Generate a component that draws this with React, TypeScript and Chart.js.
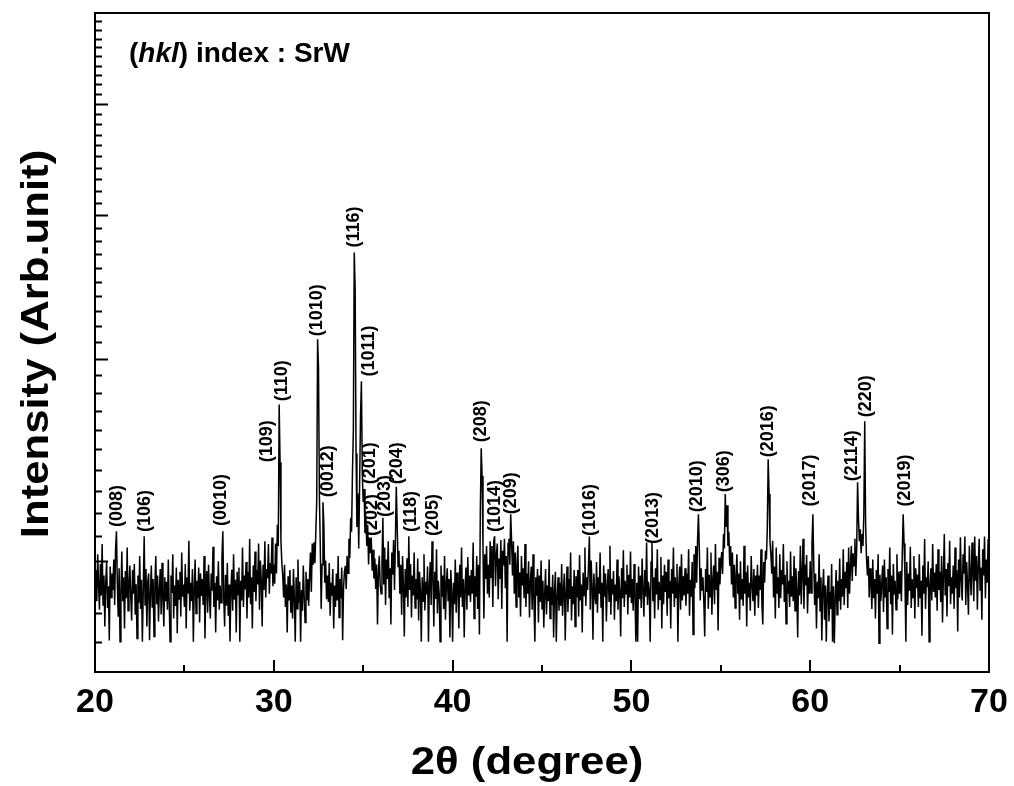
import { useEffect, useRef } from 'react';
import { Chart, registerables } from 'chart.js';

Chart.register(...registerables);

const FONT = "'Liberation Sans', Arial, sans-serif";

// 2θ grid: first angle and step (degrees)
const X_START = 20;
const X_STEP = 0.05;

// Measured intensity (counts), one row per degree (20.00 … 69.95) + 70.00
const INTENSITY = [
  1872, 1963, 1844, 2026, 1907, 1813, 1987, 1865, 2068, 1830, 1942, 1753, 1914, 1995, 1819, 1900, 1704, 1977, 1858, 1949,
  1886, 2005, 1830, 2047, 2122, 1907, 1788, 1970, 1700, 1872, 2037, 1844, 1935, 1746, 1959, 1855, 2054, 1809, 1903, 1981,
  1861, 1774, 1963, 1872, 1987, 1795, 1908, 1711, 1942, 1837, 2019, 1816, 1925, 1700, 1886, 2101, 1830, 1967, 1753, 1917,
  1949, 1705, 1872, 1981, 1820, 1928, 1718, 1907, 2019, 1833, 1942, 1771, 1886, 1967, 1796, 1992, 1858, 1753, 1935, 1844,
  1917, 1813, 2005, 1838, 1700, 1942, 1875, 2026, 1781, 1903, 1827, 1973, 1729, 1925, 1852, 1956, 1788, 2033, 1861, 1907,
  1823, 1987, 1746, 1935, 1872, 2082, 1809, 1914, 1844, 1967, 1700, 1893, 2005, 1799, 1921, 1855, 1973, 1767, 1950, 1864,
  1928, 1830, 2019, 1711, 1897, 1959, 1802, 1984, 1866, 1781, 1949, 1883, 2057, 1823, 1914, 1732, 1939, 1847, 1998, 1813,
  1903, 1838, 2012, 2122, 1858, 1753, 1945, 1827, 1991, 1791, 1907, 1701, 1883, 1964, 1809, 2026, 1850, 1925, 1732, 1956,
  1869, 1973, 1700, 1921, 1847, 2054, 1823, 1942, 1889, 1995, 1781, 1956, 1858, 2089, 1833, 1935, 1746, 1981, 1879, 2037,
  1844, 1963, 1907, 2070, 1813, 2001, 1925, 1753, 1984, 1886, 2080, 1858, 1967, 1931, 2068, 1872, 1991, 1949, 2095, 1900,
  1985, 1910, 2070, 1950, 2150, 2060, 2736, 2437, 2080, 1990, 1942, 1858, 1984, 1823, 1907, 1732, 1939, 1847, 1963, 1802,
  1903, 1781, 1967, 1855, 1700, 1935, 1816, 2005, 1838, 1917, 1700, 1886, 1809, 1981, 1861, 1767, 1956, 1847, 1928, 1827,
  1942, 2033, 1879, 2070, 1984, 2075, 1990, 2120, 2250, 3118, 2948, 2280, 2060, 1816, 1985, 2249, 2150, 1914, 2001, 1851,
  1942, 1841, 1991, 1791, 1914, 1865, 1967, 1746, 1903, 1823, 1949, 1847, 2019, 1785, 1928, 1855, 1973, 1705, 1893, 1956,
  1980, 1890, 2020, 1950, 2090, 2010, 2180, 2120, 2390, 2600, 3711, 3446, 2480, 2140, 2290, 2050, 2330, 2672, 2866, 2380,
  2250, 2310, 2120, 2190, 2060, 2150, 1985, 2095, 2030, 2095, 1960, 2045, 1930, 2010, 1890, 1985, 1760, 1950, 2020, 1905,
  1872, 1991, 2180, 1907, 2054, 1830, 2005, 1928, 2080, 1855, 1970, 1760, 2033, 1945, 2085, 1886, 2075, 2320, 2150, 1977,
  2040, 1872, 1984, 1795, 2019, 1903, 1718, 1967, 1858, 2010, 1823, 2101, 1886, 1987, 1785, 1942, 1865, 2033, 1819, 1928,
  1851, 2009, 1774, 1956, 1883, 1700, 1935, 1844, 2026, 1810, 1917, 1869, 1977, 1700, 1907, 1995, 1830, 2080, 1942, 1753,
  1956, 1852, 2047, 1799, 1921, 1872, 1700, 1981, 1861, 1942, 1816, 2019, 1777, 1903, 1970, 1844, 1928, 1715, 1963, 1879,
  1700, 1914, 1833, 2005, 1802, 1953, 1893, 1746, 1984, 1858, 2054, 1823, 1928, 1715, 1900, 1973, 1813, 2015, 1865, 1942,
  1841, 1963, 1872, 2075, 1781, 1939, 1861, 2019, 1816, 1984, 1725, 2205, 2506, 2370, 2050, 1781, 2026, 1928, 2060, 1872,
  1984, 1858, 2080, 1935, 2060, 1823, 2080, 2101, 1900, 2026, 2070, 1851, 2009, 1928, 2085, 1816, 2040, 1981, 2090, 1893,
  2019, 1700, 2070, 2090, 1984, 2195, 2080, 1942, 2080, 1872, 2033, 1823, 1984, 2061, 1858, 1953, 1788, 2019, 1903, 1970,
  1855, 2068, 1823, 1949, 1872, 1998, 1785, 1917, 1977, 1813, 2026, 1847, 1700, 1935, 1865, 1967, 1767, 1942, 1841, 2001,
  1816, 1921, 1749, 1872, 1967, 1796, 1903, 1844, 2005, 1781, 1897, 1830, 1945, 1715, 1879, 1956, 1700, 1858, 1935, 1809,
  1914, 1827, 1987, 1791, 1886, 1949, 1704, 1869, 1977, 1805, 1928, 1852, 2033, 1774, 1900, 1833, 1963, 1753, 1939, 1858,
  1963, 1788, 2023, 1847, 1907, 1732, 1953, 1865, 2054, 1827, 1935, 1886, 1984, 2100, 1813, 2001, 1900, 1707, 1949, 1872,
  1833, 1995, 1802, 1935, 1872, 2033, 1823, 1914, 1700, 1981, 1861, 1949, 1771, 1900, 1967, 1844, 2061, 1795, 1928, 1869,
  1959, 1777, 1907, 1844, 2005, 1813, 1939, 1879, 1718, 1970, 1855, 2043, 1823, 1921, 1872, 1984, 1796, 1945, 1858, 2037,
  1837, 1928, 1809, 1987, 1872, 1700, 1914, 1700, 1977, 1851, 1942, 1819, 2009, 1886, 1788, 1963, 1861, 2075, 1830, 1917,
  1886, 1700, 1995, 2080, 1844, 1935, 1781, 1970, 1869, 2047, 1813, 1917, 1851, 2015, 1746, 1942, 1833, 1984, 1879, 1956,
  1791, 2005, 1855, 1921, 1746, 1967, 1872, 2054, 1823, 1935, 1858, 1987, 1700, 1903, 1977, 1813, 2026, 1847, 1939, 1865,
  1970, 1827, 1949, 1872, 2047, 1791, 1925, 1861, 1995, 1725, 2026, 1893, 2060, 1914, 2085, 2195, 2040, 1847, 1970, 1886,
  1935, 1844, 1718, 1967, 1879, 2054, 1816, 1945, 1861, 2033, 1795, 1921, 1981, 1833, 2068, 1886, 1956, 1739, 2012, 1907,
  1984, 2035, 1948, 2110, 2050, 2286, 2140, 2235, 2060, 2120, 1980, 2060, 1907, 2033, 1858, 1984, 1819, 1939, 2026, 1872,
  1949, 1777, 1998, 1851, 1928, 1827, 2061, 1872, 1956, 1753, 1981, 1858, 1914, 1809, 2019, 1903, 1844, 1967, 1791, 1942,
  1865, 1984, 1819, 1942, 1886, 2047, 1830, 1760, 1995, 1914, 2040, 2005, 2131, 2452, 2286, 2080, 2026, 1949, 2082, 1858,
  1977, 1781, 2054, 1872, 1935, 1819, 2026, 1855, 1963, 1907, 2068, 1841, 1945, 1763, 1998, 1872, 1921, 1823, 2037, 1861,
  1939, 1844, 2019, 1809, 1970, 1886, 1715, 1959, 1865, 2061, 1833, 1949, 2090, 1816, 1984, 1903, 2023, 1799, 1935, 1872,
  1998, 1875, 2070, 2195, 1984, 1830, 1949, 1746, 1917, 1855, 2026, 1809, 1935, 1704, 1893, 1967, 1777, 1903, 1700, 1869,
  1942, 1771, 1879, 1816, 1987, 1700, 1900, 1695, 1855, 1963, 1795, 1921, 1844, 2009, 1813, 1928, 1861, 2047, 1830, 1956,
  1893, 1995, 1819, 2054, 1872, 1977, 2060, 1920, 2030, 1980, 2090, 1940, 2050, 2341, 2176, 2080, 2130, 2030, 2110, 2060,
  2200, 2645, 2150, 2010, 1942, 2019, 1858, 1970, 1903, 1816, 2005, 1855, 1928, 1781, 1963, 1872, 2026, 1695, 1945, 1844,
  1907, 1981, 1805, 2005, 1858, 1935, 1746, 1967, 1879, 2054, 1833, 1942, 1725, 1987, 1869, 1921, 1813, 2026, 1851, 1956,
  1872, 1959, 1844, 2033, 2195, 2070, 1935, 1700, 1995, 1830, 1949, 1883, 2057, 1819, 1928, 1858, 2019, 1781, 1970, 1893,
  1945, 1823, 2026, 1855, 1921, 1721, 1981, 1872, 2089, 1816, 1935, 1897, 1998, 1700, 1907, 1970, 1847, 2068, 1879, 1953,
  1858, 1987, 1809, 2047, 1886, 1956, 1841, 2019, 1767, 1942, 2110, 1865, 1967, 1788, 1991, 1900, 2082, 1833, 1935, 1872,
  1981, 1816, 2054, 1893, 1963, 1735, 2005, 1858, 2096, 1921, 1847, 2026, 1949, 2100, 1830, 1995, 1907, 1795, 2061, 1939,
  1865, 2075, 1956, 1844, 2100, 1921, 2019, 1813, 1984, 2090, 1886, 1973, 1777, 2047, 1942, 2100, 1855, 2005, 1914, 2089,
  1903,
];

// (hkl) peak labels: text, 2θ of label, intensity at label foot
const PEAK_LABELS = [
  '(008)', '(106)', '(0010)', '(109)', '(110)', '(1010)', '(0012)', '(116)', '(1011)',
  '(201)', '(202)', '(203)', '(204)', '(118)', '(205)', '(208)', '(1014)', '(209)',
  '(1016)', '(2013)', '(2010)', '(306)', '(2016)', '(2017)', '(2114)', '(220)', '(2019)',
];
const PEAK_LABEL_X = [
  21.23, 22.8, 27.05, 29.62, 30.46, 32.42, 33.03, 34.49, 35.32,
  35.38, 35.49, 36.22, 36.89, 37.67, 38.9, 41.59, 42.37, 43.27,
  47.68, 51.21, 53.67, 55.18, 57.64, 59.99, 62.34, 63.12, 65.3,
];
const PEAK_LABEL_Y = [
  2140, 2119, 2144, 2437, 2754, 3137, 2272, 3748, 2894,
  2332, 2102, 2183, 2332, 2119, 2102, 2536, 2119, 2195,
  2102, 2068, 2204, 2294, 2461, 2230, 2346, 2667, 2230,
];

const X_MIN = 20;
const X_MAX = 70;
const X_MAJOR_TICKS = [20, 30, 40, 50, 60, 70];
const X_MINOR_TICKS = [25, 35, 45, 55, 65];
const Y_MIN = 1600;
const Y_MAX = 6000;
const Y_MAJOR_TICKS = [2000, 3000, 4000, 5000];
const Y_MINOR_STEP = 100;

const X_TITLE = '2θ (degree)';
const Y_TITLE = 'Intensity (Arb.unit)';
const TITLE_STRETCH = 1.15;

const overlay = {
  id: 'overlay',
  afterDatasetsDraw(chart: any) {
    const { ctx, chartArea: a, scales } = chart;
    const xs = scales.x;
    const ys = scales.y;
    ctx.save();
    ctx.fillStyle = '#000';
    ctx.strokeStyle = '#000';

    // peak labels
    ctx.font = `bold 18px ${FONT}`;
    ctx.textAlign = 'left';
    ctx.textBaseline = 'middle';
    PEAK_LABELS.forEach((t, i) => {
      const px = xs.getPixelForValue(PEAK_LABEL_X[i]);
      const py = ys.getPixelForValue(PEAK_LABEL_Y[i]);
      ctx.save();
      ctx.translate(px, py);
      ctx.rotate(-Math.PI / 2);
      ctx.fillText(t, 0, 0);
      ctx.restore();
    });

    // frame
    ctx.lineWidth = 2;
    ctx.strokeRect(a.left, a.top, a.right - a.left, a.bottom - a.top);

    // inward ticks
    ctx.lineWidth = 2;
    ctx.beginPath();
    X_MAJOR_TICKS.forEach((v) => {
      const p = Math.round(xs.getPixelForValue(v));
      ctx.moveTo(p, a.bottom);
      ctx.lineTo(p, a.bottom - 12);
    });
    X_MINOR_TICKS.forEach((v) => {
      const p = Math.round(xs.getPixelForValue(v));
      ctx.moveTo(p, a.bottom);
      ctx.lineTo(p, a.bottom - 7);
    });
    for (let v = Y_MIN + Y_MINOR_STEP; v < Y_MAX; v += Y_MINOR_STEP) {
      const p = Math.round(ys.getPixelForValue(v)) + 0.5;
      const len = Y_MAJOR_TICKS.includes(v) ? 13 : 7;
      ctx.moveTo(a.left, p);
      ctx.lineTo(a.left + len, p);
    }
    ctx.stroke();

    // annotation "(hkl) index : SrW"
    ctx.textAlign = 'left';
    ctx.textBaseline = 'alphabetic';
    let x0 = 129;
    const yb = 62;
    const parts: [string, string][] = [
      ['(', `bold 28px ${FONT}`],
      ['hkl', `italic bold 28px ${FONT}`],
      [')', `bold 28px ${FONT}`],
      [' index : SrW', `bold 28px ${FONT}`],
    ];
    parts.forEach(([t, f]) => {
      ctx.font = f;
      ctx.fillText(t, x0, yb);
      x0 += ctx.measureText(t).width;
    });

    // axis titles
    ctx.font = `bold 38px ${FONT}`;
    ctx.textAlign = 'center';
    ctx.textBaseline = 'middle';
    ctx.save();
    ctx.translate(527, 764);
    ctx.scale(TITLE_STRETCH, 1);
    ctx.fillText(X_TITLE, 0, 0);
    ctx.restore();

    ctx.save();
    ctx.translate(38, 344);
    ctx.rotate(-Math.PI / 2);
    ctx.scale(TITLE_STRETCH, 1);
    ctx.fillText(Y_TITLE, 0, 0);
    ctx.restore();

    ctx.restore();
  },
};

export default function App() {
  const ref = useRef<HTMLCanvasElement | null>(null);
  useEffect(() => {
    if (!ref.current) return;
    const points = INTENSITY.map((v, i) => ({ x: +(X_START + i * X_STEP).toFixed(2), y: v }));
    const chart = new Chart(ref.current, {
      type: 'line',
      data: {
        datasets: [
          {
            data: points,
            borderColor: '#000',
            borderWidth: 1.5,
            pointRadius: 0,
            tension: 0,
            fill: false,
          },
        ],
      },
      options: {
        responsive: false,
        animation: false,
        devicePixelRatio: 1,
        layout: { padding: { top: 13, right: 25, left: 0, bottom: 0 } },
        plugins: { legend: { display: false }, tooltip: { enabled: false } },
        scales: {
          x: {
            type: 'linear',
            min: X_MIN,
            max: X_MAX,
            afterFit: (s: any) => {
              s.height = 114;
              s.paddingLeft = 0;
              s.paddingRight = 0;
            },
            grid: { display: false, drawTicks: false },
            border: { display: false },
            ticks: {
              stepSize: 10,
              maxRotation: 0,
              color: '#000',
              padding: 10,
              font: { family: FONT, size: 34, weight: 'bold' },
            },
            title: { display: false },
          },
          y: {
            type: 'logarithmic',
            min: Y_MIN,
            max: Y_MAX,
            afterFit: (s: any) => { s.width = 95; },
            grid: { display: false, drawTicks: false },
            border: { display: false },
            ticks: { display: false },
            title: { display: false },
          },
        },
      },
      plugins: [overlay],
    });
    return () => chart.destroy();
  }, []);
  return (
    <div style={{ position: 'absolute', left: 0, top: 0, width: 1014, height: 786, background: '#fff' }}>
      <canvas ref={ref} width={1014} height={786} style={{ display: 'block' }} />
    </div>
  );
}
